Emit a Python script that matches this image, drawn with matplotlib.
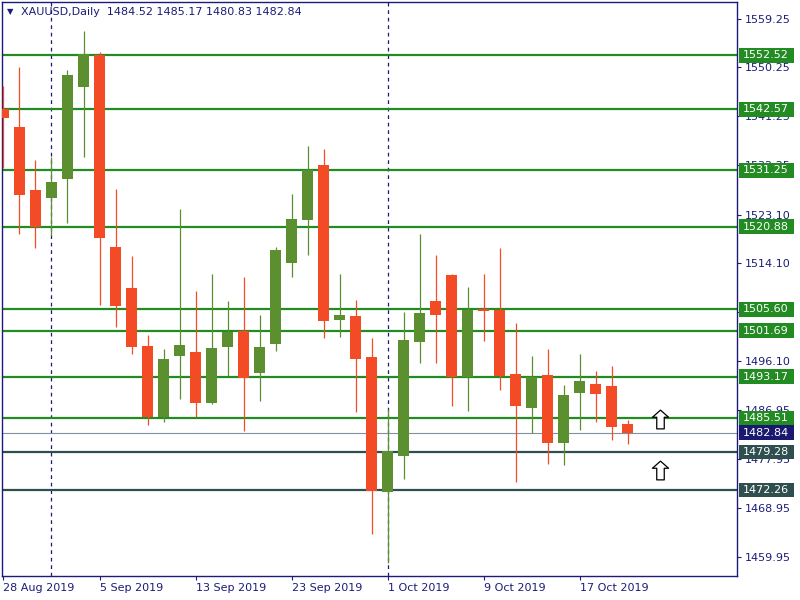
import matplotlib
matplotlib.use('Agg')
import matplotlib.pyplot as plt
from matplotlib.path import Path
import numpy as np
import pandas as pd

# дневные свечи XAUUSD, 28 Aug - 22 Oct 2019
opens = [1542.65, 1539.20, 1527.58, 1526.16, 1529.61, 1546.58, 1552.48, 1517.07, 1509.51, 1498.81,
         1485.66, 1496.97, 1497.70, 1488.35, 1498.63, 1501.58, 1493.83, 1499.18, 1514.12, 1522.05,
         1532.19, 1503.61, 1504.34, 1496.78, 1471.94, 1478.58, 1499.55, 1507.11, 1511.91, 1493.09,
         1505.63, 1505.45, 1493.65, 1487.43, 1493.46, 1480.98, 1490.14, 1491.80, 1491.43, 1484.52]
highs = [1546.76, 1550.27, 1533.12, 1533.67, 1549.71, 1556.91, 1553.03, 1527.77, 1515.41, 1500.84,
         1498.26, 1524.08, 1508.96, 1512.09, 1507.11, 1511.54, 1504.53, 1517.07, 1526.85, 1535.70,
         1535.14, 1512.09, 1507.29, 1500.29, 1487.14, 1505.08, 1519.47, 1515.59, 1512.09, 1509.69,
         1512.09, 1516.89, 1503.05, 1496.97, 1498.26, 1491.62, 1497.34, 1494.20, 1495.12, 1485.17]
lows = [1531.70, 1519.52, 1516.94, 1519.28, 1521.55, 1533.72, 1506.37, 1502.32, 1497.34, 1484.24,
        1484.79, 1489.04, 1485.66, 1488.10, 1493.28, 1483.13, 1488.67, 1497.89, 1511.54, 1515.59,
        1500.29, 1500.47, 1486.69, 1464.14, 1458.84, 1474.28, 1495.68, 1495.68, 1487.80, 1486.88,
        1499.73, 1490.70, 1473.78, 1482.71, 1477.10, 1476.86, 1483.32, 1484.85, 1481.47, 1480.83]
closes = [1540.90, 1526.72, 1520.81, 1529.06, 1548.79, 1552.67, 1518.79, 1506.19, 1498.63, 1485.66,
          1496.41, 1499.00, 1488.35, 1498.44, 1501.39, 1492.96, 1498.63, 1516.52, 1522.23, 1531.27,
          1503.42, 1504.53, 1496.41, 1472.12, 1479.45, 1499.92, 1504.90, 1504.53, 1493.09, 1505.45,
          1505.27, 1493.28, 1487.80, 1493.09, 1480.98, 1489.77, 1492.36, 1489.96, 1483.93, 1482.84]

# уровни
green_levels = [1552.52, 1542.57, 1531.25, 1520.88, 1505.60, 1501.69, 1493.17, 1485.51]
dark_levels = [1479.28, 1472.26]
last_price = 1482.84

y_ticks = [1559.25, 1550.25, 1541.25, 1532.25, 1523.10, 1514.10, 1505.10,
           1496.10, 1486.95, 1477.95, 1468.95, 1459.95]

# стрелки вверх
arrow_idx = [41, 41]
arrow_price = [1485.3, 1475.9]

dates = pd.bdate_range('2019-08-28', periods=len(opens))

GREEN = '#5b8f30'
RED = '#f24b25'
LEVEL = '#228b22'
DARK = '#2f4f4f'
NAVY = '#1c1c78'

fig = plt.figure(figsize=(8, 6), dpi=100)
ax = fig.add_axes([0.0025, 0.0405, 0.9185, 0.9555])

x = np.arange(len(opens))
o = np.array(opens)
c = np.array(closes)
colors = [GREEN if cc >= oo else RED for oo, cc in zip(o, c)]

ax.vlines(x, lows, highs, colors=colors, lw=0.9, zorder=3)
ax.bar(x, np.maximum(np.abs(c - o), 0.3), bottom=np.minimum(o, c), width=0.69,
       color=colors, zorder=4, linewidth=0)

# разделители месяцев
for i in range(1, len(dates)):
    if dates[i].month != dates[i - 1].month:
        ax.axvline(i, color=NAVY, lw=0.9, ls=(0, (3, 3)), zorder=1)

for lvl in green_levels:
    ax.axhline(lvl, color=LEVEL, lw=1.6, zorder=2)
for lvl in dark_levels:
    ax.axhline(lvl, color=DARK, lw=1.6, zorder=2)
ax.axhline(last_price, color='#8090a0', lw=0.8, zorder=2)

# стрелки
arrow_path = Path([(-0.2, -0.5), (0.2, -0.5), (0.2, 0.12), (0.43, 0.12), (0, 0.5),
                   (-0.43, 0.12), (-0.2, 0.12), (-0.2, -0.5)],
                  [Path.MOVETO] + [Path.LINETO] * 6 + [Path.CLOSEPOLY])
ax.plot(arrow_idx, arrow_price, ls='none', marker=arrow_path, markersize=13.5,
        mfc='white', mec='black', mew=0.9, zorder=5)

ax.set_xlim(-0.09, 45.8)
ax.set_ylim(1456.45, 1562.26)

ax.yaxis.tick_right()
ax.set_yticks(y_ticks)
ax.set_yticklabels([f'{v:.2f}' for v in y_ticks])
ax.tick_params(axis='y', direction='out', length=3, width=0.8, colors=NAVY,
               labelsize=8, pad=3)

tick_idx = list(range(0, len(dates), 6))
ax.set_xticks(tick_idx)
ax.set_xticklabels([f'{d.day} {d:%b %Y}' for d in dates[tick_idx]], ha='left')
ax.tick_params(axis='x', direction='out', length=3, width=0.8, colors=NAVY,
               labelsize=8, pad=2)

for sp in ax.spines.values():
    sp.set_color(NAVY)
    sp.set_linewidth(1.0)


def wide_box(x0, y0, width, height, mutation_size):
    # шире по горизонтали, меньше по вертикали
    px = 0.42 * mutation_size
    py = 0.22 * mutation_size
    x0, y0 = x0 - px, y0 - py
    x1, y1 = x0 + width + 2 * px, y0 + height + 2 * py
    return Path([(x0, y0), (x1, y0), (x1, y1), (x0, y1), (x0, y0)], closed=True)


def price_label(val, bg):
    ax.annotate(f'{val:.2f}', xy=(1, val), xycoords=ax.get_yaxis_transform(),
                xytext=(6.5, 0), textcoords='offset pixels', ha='left', va='center',
                fontsize=8, color='white', annotation_clip=False, zorder=6,
                bbox=dict(boxstyle=wide_box, fc=bg, ec='none'))


for lvl in green_levels:
    price_label(lvl, LEVEL)
for lvl in dark_levels:
    price_label(lvl, DARK)
price_label(last_price, '#191970')

# заголовок
fig.text(0.009, 0.98, '\u25bc', fontsize=6, color=NAVY, va='center')
fig.text(0.026, 0.98, 'XAUUSD,Daily  ' + ' '.join(f'{v:.2f}' for v in
         [opens[-1], highs[-1], lows[-1], closes[-1]]),
         fontsize=8, color=NAVY, va='center')

plt.savefig('out.png', dpi=100)
